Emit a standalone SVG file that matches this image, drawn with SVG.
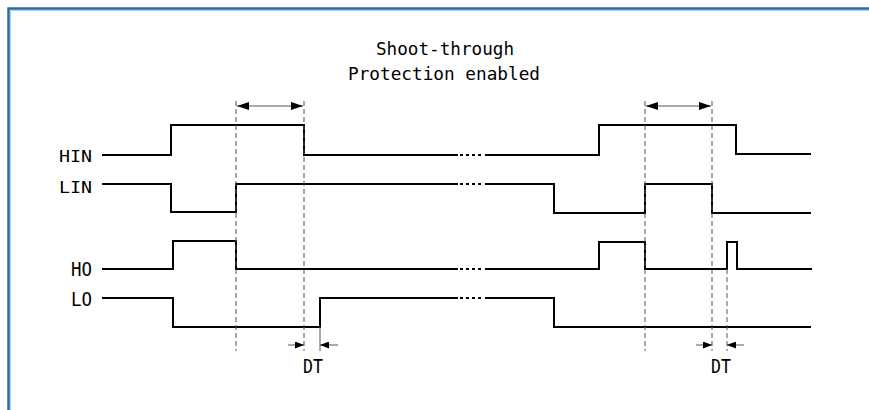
<svg xmlns="http://www.w3.org/2000/svg" width="869" height="410" viewBox="0 0 869 410">
<style>
.sig{fill:none;stroke:#000;stroke-width:2;stroke-linejoin:miter}
.dot{fill:none;stroke:#000;stroke-width:2;stroke-dasharray:3 3}
.dash{fill:none;stroke:#555;stroke-width:1;stroke-dasharray:5 3}
.thin{fill:none;stroke:#555;stroke-width:1}
.t{font-family:"DejaVu Sans Mono","Liberation Mono",monospace;fill:#000}
</style>
<defs>
<marker id="ah" viewBox="0 0 12 8" refX="12" refY="4" markerWidth="12" markerHeight="8" markerUnits="userSpaceOnUse" orient="auto-start-reverse">
<path d="M0,0 L12,4 L0,8 Z" fill="#000"/>
</marker>
<marker id="ahs" viewBox="0 0 9 7" refX="9" refY="3.5" markerWidth="9" markerHeight="7" markerUnits="userSpaceOnUse" orient="auto">
<path d="M0,0 L9,3.5 L0,7 Z" fill="#000"/>
</marker>
</defs>
<rect width="869" height="410" fill="#fff"/>
<g id="frame">
<path d="M8.5,410 V8.5 H869" fill="none" stroke="#2b6aa6" stroke-width="2.5"/>
<path d="M10.5,410 V10.5 H869" fill="none" stroke="#a9cdeb" stroke-width="1"/>
</g>
<g id="title">
<text class="t" x="445" y="55" font-size="17" text-anchor="middle" textLength="138" lengthAdjust="spacingAndGlyphs">Shoot-through</text>
<text class="t" x="444" y="80" font-size="17" text-anchor="middle" textLength="192" lengthAdjust="spacingAndGlyphs">Protection enabled</text>
</g>
<g id="labels">
<text class="t" x="59" y="162" font-size="15" textLength="33" lengthAdjust="spacingAndGlyphs">HIN</text>
<text class="t" x="59" y="193" font-size="15" textLength="33" lengthAdjust="spacingAndGlyphs">LIN</text>
<text class="t" x="71" y="276" font-size="19" textLength="21" lengthAdjust="spacingAndGlyphs">HO</text>
<text class="t" x="71" y="306" font-size="19" textLength="21" lengthAdjust="spacingAndGlyphs">LO</text>
<text class="t" x="303" y="373" font-size="19" textLength="20" lengthAdjust="spacingAndGlyphs">DT</text>
<text class="t" x="711" y="373" font-size="19" textLength="20" lengthAdjust="spacingAndGlyphs">DT</text>
</g>
<g id="HIN">
<path class="sig" d="M102,155 H171 V125 H304 V155 H458"/>
<path class="dot" d="M460,155 H484"/>
<path class="sig" d="M485,155 H599 V125 H736 V154 H811"/>
</g>
<g id="LIN">
<path class="sig" d="M102,184 H171 V212 H236 V184 H458"/>
<path class="dot" d="M460,184 H484"/>
<path class="sig" d="M485,184 H554 V213 H645 V184 H712 V213 H811"/>
</g>
<g id="HO">
<path class="sig" d="M102,269 H173 V241 H236 V269 H458"/>
<path class="dot" d="M460,269 H484"/>
<path class="sig" d="M485,269 H599 V242 H645 V269 H727 V242 H737 V269 H812"/>
</g>
<g id="LO">
<path class="sig" d="M102,298 H173 V327 H320 V298 H458"/>
<path class="dot" d="M460,298 H484"/>
<path class="sig" d="M485,298 H554 V327 H811"/>
</g>
<g id="connectors">
<path class="dash" d="M236,101 V351"/>
<path class="dash" d="M304,101 V351"/>
<path class="thin" d="M320,327 V351"/>
<path class="dash" d="M645,101 V351"/>
<path class="dash" d="M712,101 V351"/>
<path class="dash" d="M727,269 V351"/>
<path class="thin" d="M237,106 H303" marker-start="url(#ah)" marker-end="url(#ah)"/>
<path class="thin" d="M646,106 H711" marker-start="url(#ah)" marker-end="url(#ah)"/>
<path class="thin" d="M288,345 H304" marker-end="url(#ahs)"/>
<path class="thin" d="M338,345 H320" marker-end="url(#ahs)"/>
<path class="thin" d="M696,345 H712" marker-end="url(#ahs)"/>
<path class="thin" d="M744,345 H727" marker-end="url(#ahs)"/>
</g>
</svg>
